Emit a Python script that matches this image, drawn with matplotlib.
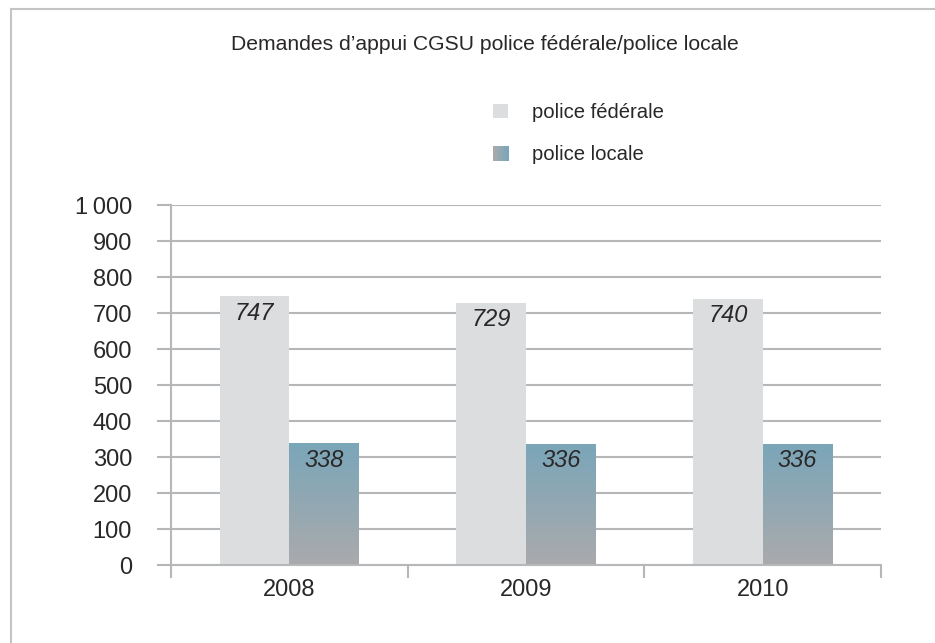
import numpy as np
import matplotlib
matplotlib.use('Agg')
import matplotlib.pyplot as plt
from matplotlib.patches import Rectangle
from matplotlib.lines import Line2D
from matplotlib.legend_handler import HandlerBase
from matplotlib.colors import LinearSegmentedColormap

plt.rcParams['font.family'] = ['Liberation Sans', 'DejaVu Sans']

# Data
years = ['2008', '2009', '2010']
federale = [747, 729, 740]
locale = [338, 336, 336]
series_names = ['police fédérale', 'police locale']
title = 'Demandes d\u2019appui CGSU police fédérale/police locale'
yticks = list(range(0, 1001, 100))
ytick_labels = ['0', '100', '200', '300', '400', '500', '600', '700', '800', '900', '1\u2009000']

grid_c = '#b5b7b9'
fed_c = '#dcdddf'
text_c = '#2a2728'
grad = LinearSegmentedColormap.from_list('loc', ['#aaaaac', '#7aa6b9'])


class GradientHandler(HandlerBase):
    # legend swatch: horizontal grey -> blue gradient
    def create_artists(self, legend, orig_handle, xdescent, ydescent,
                       width, height, fontsize, trans):
        n = 24
        arts = []
        for i in range(n):
            arts.append(Rectangle((-xdescent + width * i / n, -ydescent),
                                  width / n + 0.3, height,
                                  fc=grad(i / (n - 1)), ec='none',
                                  transform=trans))
        return arts


fig = plt.figure(figsize=(9.35, 6.43), dpi=100)
ax = fig.add_axes([171 / 935, 1 - 565 / 643, 710 / 935, 360 / 643])

x = np.arange(len(years))
w = 0.295
b1 = ax.bar(x - w / 2, federale, w, color=fed_c, zorder=2)
b2 = ax.bar(x + w / 2, locale, w, color='none', zorder=2)

# gradient fill for the local police bars
g = np.linspace(1, 0, 256).reshape(-1, 1)
for r in b2:
    x0, y0 = r.get_x(), r.get_y()
    im = ax.imshow(g, cmap=grad, aspect='auto', zorder=2,
                   extent=[x0, x0 + r.get_width(), y0, y0 + r.get_height()])
    im.set_clip_path(r)

for r, v in zip(list(b1) + list(b2), federale + locale):
    ax.text(r.get_x() + r.get_width() / 2, v - 47, str(v), ha='center',
            va='center', fontsize=17, style='italic', color=text_c, zorder=3)

ax.set_xlim(-0.5, 2.5)
ax.set_ylim(0, 1000)
ax.set_yticks(yticks)
ax.set_yticklabels(ytick_labels)
ax.yaxis.grid(True, color=grid_c, lw=1.5, zorder=1)
ax.set_axisbelow(True)
ax.tick_params(axis='y', length=10, width=1.5, color=grid_c, labelsize=17,
               labelcolor=text_c, pad=18)

ax.set_xticks([-0.5, 0.5, 1.5, 2.5], minor=False)
ax.set_xticklabels([])
ax.set_xticks(x, minor=True)
ax.set_xticklabels(years, minor=True)
ax.tick_params(axis='x', which='major', length=9, width=1.5, color=grid_c,
               direction='out')
ax.tick_params(axis='x', which='minor', length=0, labelsize=17,
               labelcolor=text_c, pad=10)

for s in ['top', 'right']:
    ax.spines[s].set_visible(False)
ax.spines['left'].set_color(grid_c)
ax.spines['left'].set_linewidth(1.5)
ax.spines['bottom'].set_color(grid_c)
ax.spines['bottom'].set_linewidth(1.5)

fig.text(485 / 935, 1 - 45 / 643, title, ha='center', va='center',
         fontsize=15.2, color=text_c)

leg = ax.legend([b1[0], 'grad'], series_names,
                handler_map={str: GradientHandler()},
                loc='upper left', bbox_to_anchor=(493 / 935, 1 - 103 / 643),
                bbox_transform=fig.transFigure, frameon=False,
                borderpad=0, borderaxespad=0,
                fontsize=14.6, handlelength=0.75, handleheight=0.75,
                handletextpad=1.15, labelspacing=1.15, labelcolor=text_c)

# frame lines (top and left)
fig.add_artist(Line2D([11 / 935, 11 / 935], [0, 1 - 9 / 643],
                      transform=fig.transFigure, color='#c3c4c6', lw=1.5))
fig.add_artist(Line2D([11 / 935, 1], [1 - 9 / 643, 1 - 9 / 643],
                      transform=fig.transFigure, color='#c3c4c6', lw=1.5))

fig.savefig('out.png', dpi=100, facecolor='white')
